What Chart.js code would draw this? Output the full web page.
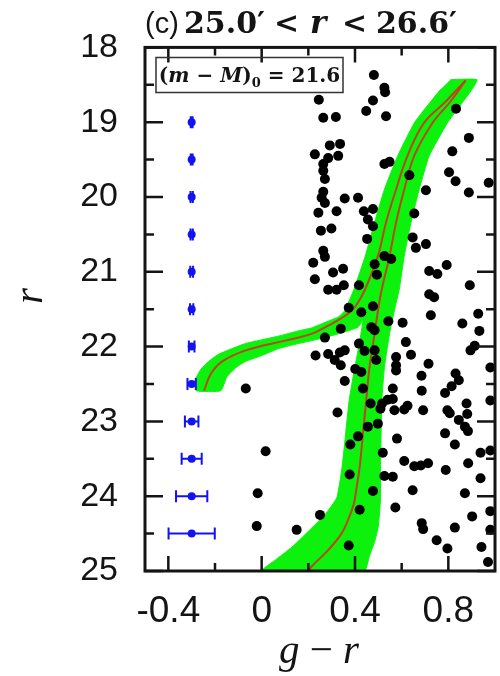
<!DOCTYPE html>
<html>
<head>
<meta charset="utf-8">
<script src="https://cdn.jsdelivr.net/npm/chart.js@4.4.1/dist/chart.umd.min.js"></script>
<style>
  html, body { margin: 0; padding: 0; background: #ffffff; }
  #wrap { width: 500px; height: 676px; position: relative; }
</style>
</head>
<body>
<div id="wrap"><canvas id="cmd" width="500" height="676"></canvas></div>
<script>
// ---- axes ----
const X_TICKS = [-0.4, -0.2, 0, 0.2, 0.4, 0.6, 0.8];
const X_LABELS = ['-0.4', '0', '0.4', '0.8'];
const Y_TICKS = [18, 18.5, 19, 19.5, 20, 20.5, 21, 21.5, 22, 22.5, 23, 23.5, 24, 24.5, 25];
const Y_LABELS = ['18', '19', '20', '21', '22', '23', '24', '25'];

// ---- isochrone envelope (outline of the shaded region) ----
const BAND_GR = [0.810, 0.923, 0.902, 0.850, 0.796, 0.718, 0.675, 0.640, 0.611, 0.590, 0.570, 0.548, 0.526, 0.515, 0.512, 0.509, 0.509, 0.500, 0.485, 0.462, 0.440,
  0.000, 0.060, 0.130, 0.200, 0.270, 0.322, 0.345, 0.360, 0.375, 0.392, 0.413, 0.434,
  0.413, 0.328, 0.243, 0.143, 0.070, 0.000, -0.070, -0.110, -0.150, -0.175,
  -0.280, -0.285, -0.260, -0.220, -0.183, -0.070, 0.072, 0.157, 0.213, 0.285, 0.330, 0.356, 0.396, 0.444, 0.484, 0.526, 0.583, 0.654, 0.710, 0.767];
const BAND_R = [18.43, 18.43, 18.56, 18.78, 19.01, 19.45, 19.90, 20.34, 20.79, 21.23, 21.50, 21.83, 22.28, 22.72, 23.16, 23.61, 24.05, 24.40, 24.60, 24.80, 25.00,
  25.00, 24.85, 24.68, 24.47, 24.25, 24.02, 23.60, 23.16, 22.72, 22.40, 22.05, 21.65,
  21.74, 21.83, 21.90, 21.97, 22.03, 22.12, 22.20, 22.28, 22.41, 22.59,
  22.59, 22.45, 22.30, 22.18, 22.10, 21.96, 21.86, 21.79, 21.75, 21.66, 21.60, 21.52, 21.23, 20.79, 20.34, 19.90, 19.45, 19.01, 18.78, 18.56];

// ---- isochrone tracks ----
const ISO_RGB_GR = [0.874, 0.810, 0.732, 0.654, 0.611, 0.576, 0.548, 0.515, 0.502, 0.484, 0.462, 0.448, 0.434, 0.420, 0.405, 0.395, 0.370, 0.342, 0.285, 0.214, 0.200];
const ISO_RGB_R  = [18.44, 18.72, 19.01, 19.45, 19.90, 20.34, 20.79, 21.23, 21.45, 21.83, 22.28, 22.72, 23.16, 23.61, 23.92, 24.10, 24.32, 24.50, 24.72, 24.94, 25.00];
const ISO_HB_GR = [0.874, 0.790, 0.696, 0.625, 0.576, 0.533, 0.498, 0.444, 0.415, 0.385, 0.342, 0.285, 0.214, 0.100, -0.068, -0.170, -0.217, -0.247];
const ISO_HB_R  = [18.44, 18.72, 19.01, 19.45, 19.90, 20.34, 20.79, 21.23, 21.40, 21.52, 21.62, 21.72, 21.83, 21.92, 22.05, 22.20, 22.36, 22.59];

// ---- field stars ----
const FIELD_GR = [0.481, 0.526, 0.529, 0.245, 0.477, 0.448, 0.264, 0.318, 0.533, 0.833, 0.888, 0.292, 0.336, 0.228, 0.285, 0.328, 0.817, 0.264, 0.526, 0.548,
  0.264, 0.633, 0.803, 0.271, 0.831, 0.973, 0.704, 0.888, 0.264, 0.257, 0.271, 0.356, 0.413, 0.438, 0.477, 0.243, 0.321, 0.455, 0.477, 0.654,
  0.254, 0.299, 0.452, 0.647, 0.661, 0.704, 0.264, 0.271, 0.221, 0.526, 0.555, 0.484, 0.349, 0.306, 0.228, 0.494, 0.718, 0.753, 0.793, 0.285,
  0.321, 0.352, 0.417, 0.892, 0.718, 0.739, 0.373, 0.477,
  0.427, 0.725, 0.604, 0.543, 0.860, 0.928, 0.933, 0.339, 0.470, 0.484, 0.271, 0.618, 0.913, 0.895, 0.417, 0.231, 0.285, 0.313, 0.335, 0.356,
  0.339, 0.441, 0.484, 0.491, 0.576, 0.640, 0.715, 0.980, 0.401, 0.427, 0.576, 0.576, 0.685, 0.831, 0.845, 0.356, 0.434, 0.562, 0.686, 0.786,
  0.814, 0.980, 0.562, 0.540, 0.516, 0.509, 0.467, 0.569, 0.611, 0.625, 0.692, 0.796, 0.806, 0.878, 0.881, 0.325, 0.845, 0.871, 0.884, 0.786,
  0.498, 0.455, 0.413, 0.580, 0.828, 0.380, 0.519, 0.611, 0.654, 0.682, 0.713, 0.789, 0.885, 0.938, 0.980, 0.938, 0.377, 0.526, 0.562, 0.477,
  0.647, 0.871, 0.420, 0.250, 0.573, 0.902, 0.980, 0.150, 0.686, 0.692, 0.828, 0.980, 0.750, 0.796, 0.942, 0.373, 0.970,
  -0.068, 0.017, -0.017, -0.021];
const FIELD_R = [18.37, 18.54, 18.60, 18.70, 18.71, 18.85, 18.94, 18.93, 18.92, 18.82, 19.21, 19.31, 19.29, 19.43, 19.48, 19.45, 19.39, 19.56, 19.56, 19.53,
  19.65, 19.71, 19.67, 19.76, 19.79, 19.81, 19.91, 19.94, 19.93, 20.01, 20.08, 20.02, 20.01, 20.19, 20.16, 20.21, 20.19, 20.30, 20.39, 20.22,
  20.45, 20.42, 20.56, 20.54, 20.68, 20.63, 20.72, 20.80, 20.88, 20.79, 20.83, 20.90, 20.96, 21.01, 21.10, 21.04, 20.99, 21.03, 20.91, 21.24,
  21.24, 21.18, 21.18, 21.18, 21.30, 21.34, 21.48, 21.46,
  21.54, 21.58, 21.68, 21.66, 21.69, 21.56, 21.79, 21.76, 21.74, 21.78, 21.88, 21.94, 21.99, 22.05, 21.96, 22.12, 22.10, 22.18, 22.08, 22.05,
  22.25, 22.06, 22.05, 22.18, 22.14, 22.11, 22.23, 22.28, 22.30, 22.34, 22.25, 22.32, 22.39, 22.36, 22.45, 22.46, 22.56, 22.56, 22.59, 22.62,
  22.53, 22.72, 22.70, 22.71, 22.76, 22.83, 22.76, 22.85, 22.84, 22.79, 22.85, 22.85, 22.89, 22.76, 22.90, 22.88, 22.98, 23.07, 23.13, 23.16,
  23.03, 23.07, 23.20, 23.23, 23.31, 23.31, 23.42, 23.53, 23.60, 23.59, 23.56, 23.65, 23.56, 23.42, 23.39, 23.76, 23.71, 23.73, 23.74, 23.93,
  23.92, 23.96, 24.18, 24.25, 24.15, 24.27, 24.20, 24.45, 24.36, 24.44, 24.42, 24.45, 24.59, 24.70, 24.68, 24.66, 24.88,
  22.56, 23.40, 23.96, 24.40];

// ---- typical photometric errors ----
const ERR_R  = [19, 19.5, 20, 20.5, 21, 21.5, 22, 22.5, 23, 23.5, 24, 24.5];
const ERR_GR = [-0.3, -0.3, -0.3, -0.3, -0.3, -0.3, -0.3, -0.3, -0.3, -0.3, -0.3, -0.3];
const ERR_DGR = [0.004, 0.004, 0.005, 0.005, 0.006, 0.007, 0.012, 0.018, 0.029, 0.043, 0.067, 0.099];

const GREEN = '#0df20d';
const ISO_RED = '#b9461c';
const BLUE = '#1212f2';
const INK = '#141414';

const pts = (xs, ys) => xs.map((x, i) => ({ x: x, y: ys[i] }));
const near = (a, b) => Math.abs(a - b) < 1e-6;

// error bars drawn right after the error-point dataset
const errorBars = {
  id: 'errorBars',
  afterDatasetDraw(chart, args) {
    if (chart.data.datasets[args.index].label !== 'errors') return;
    const { ctx, scales: { x, y } } = chart;
    ctx.save();
    ctx.strokeStyle = BLUE;
    ctx.lineWidth = 2;
    ERR_R.forEach((r, i) => {
      const py = y.getPixelForValue(r);
      const x0 = x.getPixelForValue(ERR_GR[i] - ERR_DGR[i]);
      const x1 = x.getPixelForValue(ERR_GR[i] + ERR_DGR[i]);
      ctx.beginPath();
      ctx.moveTo(x0, py); ctx.lineTo(x1, py);
      ctx.moveTo(x0, py - 6); ctx.lineTo(x0, py + 6);
      ctx.moveTo(x1, py - 6); ctx.lineTo(x1, py + 6);
      ctx.stroke();
    });
    ctx.restore();
  }
};

// boxed frame with inward ticks on all four sides
const frame = {
  id: 'frame',
  afterDatasetsDraw(chart) {
    const { ctx, chartArea: a, scales: { x, y } } = chart;
    ctx.save();
    ctx.strokeStyle = INK;
    ctx.lineWidth = 2.5;
    ctx.beginPath();
    X_TICKS.forEach(v => {
      const px = x.getPixelForValue(v);
      const len = X_LABELS.some(l => near(parseFloat(l), v)) ? 15 : 8;
      ctx.moveTo(px, a.bottom); ctx.lineTo(px, a.bottom - len);
      ctx.moveTo(px, a.top); ctx.lineTo(px, a.top + len);
    });
    Y_TICKS.forEach(v => {
      const py = y.getPixelForValue(v);
      const len = Y_LABELS.some(l => near(parseFloat(l), v)) ? 18 : 9;
      ctx.moveTo(a.left, py); ctx.lineTo(a.left + len, py);
      ctx.moveTo(a.right, py); ctx.lineTo(a.right - len, py);
    });
    ctx.stroke();
    ctx.lineWidth = 3;
    ctx.strokeRect(a.left, a.top, a.right - a.left, a.bottom - a.top);
    ctx.restore();
  }
};

// panel title, distance-modulus box and axis titles
const annotations = {
  id: 'annotations',
  afterDraw(chart) {
    const { ctx } = chart;
    ctx.save();
    ctx.fillStyle = INK;
    ctx.textBaseline = 'alphabetic';
    ctx.textAlign = 'left';

    // title: (c) 25.0' < r < 26.6'
    ctx.font = '29px "Liberation Sans", Arial, sans-serif';
    ctx.fillText('(c)', 145, 33);
    const bold = 'bold 30px "DejaVu Serif", serif';
    const boldIt = 'italic bold 31px "DejaVu Serif", serif';
    [['25.0\u2032', 184, bold], ['<', 274, bold], ['r', 310, boldIt], ['<', 342, bold], ['26.6\u2032', 376, bold]]
      .forEach(([t, px, f]) => { ctx.font = f; ctx.fillText(t, px, 33); });

    // distance modulus box
    ctx.lineWidth = 1.5;
    ctx.strokeStyle = '#333333';
    ctx.strokeRect(156, 57.5, 187, 35);
    const f = 'bold 20px "DejaVu Serif", serif';
    const fi = 'italic bold 20px "DejaVu Serif", serif';
    const fs = 'bold 13px "DejaVu Serif", serif';
    const parts = [['(', f, 0], ['m', fi, 0], [' \u2212 ', f, 0], ['M', fi, 0], [')', f, 0], ['0', fs, 5], [' = ', f, 0], ['21.6', f, 0]];
    let total = 0;
    parts.forEach(([t, font]) => { ctx.font = font; total += ctx.measureText(t).width; });
    let cx = 249.5 - total / 2;
    parts.forEach(([t, font, dy]) => {
      ctx.font = font;
      ctx.fillText(t, cx, 82 + dy);
      cx += ctx.measureText(t).width;
    });

    // x-axis title
    ctx.font = 'italic 41px "Liberation Serif", "Times New Roman", serif';
    const g = 'g', m = ' \u2212 ', r = 'r';
    const wg = ctx.measureText(g).width, wr = ctx.measureText(r).width;
    ctx.font = '41px "Liberation Serif", "Times New Roman", serif';
    const wm = ctx.measureText(m).width;
    let sx = 319 - (wg + wm + wr) / 2;
    ctx.font = 'italic 41px "Liberation Serif", "Times New Roman", serif';
    ctx.fillText(g, sx, 663); sx += wg;
    ctx.font = '41px "Liberation Serif", "Times New Roman", serif';
    ctx.fillText(m, sx, 663); sx += wm;
    ctx.font = 'italic 41px "Liberation Serif", "Times New Roman", serif';
    ctx.fillText(r, sx, 663);

    // y-axis title
    ctx.translate(42, 296);
    ctx.rotate(-Math.PI / 2);
    ctx.textAlign = 'center';
    ctx.fillText('r', 0, 0);
    ctx.restore();
  }
};

new Chart(document.getElementById('cmd'), {
  type: 'scatter',
  data: {
    datasets: [
      { type: 'line', label: 'envelope', data: pts(BAND_GR, BAND_R), fill: 'shape', backgroundColor: GREEN,
        borderColor: GREEN, borderWidth: 1, pointRadius: 0, tension: 0.15, order: 5, clip: 0 },
      { type: 'line', label: 'isochrone RGB', data: pts(ISO_RGB_GR, ISO_RGB_R), fill: false, borderColor: ISO_RED,
        borderWidth: 2, pointRadius: 0, tension: 0.4, order: 4, clip: 0 },
      { type: 'line', label: 'isochrone HB', data: pts(ISO_HB_GR, ISO_HB_R), fill: false, borderColor: ISO_RED,
        borderWidth: 2, pointRadius: 0, tension: 0.4, order: 3, clip: 0 },
      { label: 'field', data: pts(FIELD_GR, FIELD_R), backgroundColor: '#000000', borderWidth: 0,
        pointRadius: 5, order: 2, clip: 0 },
      { label: 'errors', data: pts(ERR_GR, ERR_R), backgroundColor: BLUE, borderWidth: 0,
        pointRadius: 4, order: 1, clip: 0 }
    ]
  },
  options: {
    responsive: false,
    animation: false,
    events: [],
    layout: { padding: { top: 46, right: 5, left: 0, bottom: 0 } },
    plugins: { legend: { display: false }, tooltip: { enabled: false }, title: { display: false } },
    scales: {
      x: {
        type: 'linear', min: -0.5, max: 1.0,
        afterBuildTicks: s => { s.ticks = X_TICKS.map(v => ({ value: v })); },
        afterFit: s => { s.height = 105; },
        grid: { display: false, drawTicks: false },
        border: { display: false },
        ticks: {
          autoSkip: false, maxRotation: 0, padding: 19, color: INK,
          font: { family: '"Liberation Sans", Arial, sans-serif', size: 37 },
          callback: v => X_LABELS.find(l => near(parseFloat(l), v)) || ''
        }
      },
      y: {
        type: 'linear', reverse: true, min: 18, max: 25,
        afterBuildTicks: s => { s.ticks = Y_TICKS.map(v => ({ value: v })); },
        afterFit: s => { s.width = 145; },
        grid: { display: false, drawTicks: false },
        border: { display: false },
        ticks: {
          autoSkip: false, padding: 27, color: INK,
          font: { family: '"Liberation Sans", Arial, sans-serif', size: 34 },
          callback: v => Y_LABELS.find(l => near(parseFloat(l), v)) || ''
        }
      }
    }
  },
  plugins: [errorBars, frame, annotations]
});
</script>
</body>
</html>
